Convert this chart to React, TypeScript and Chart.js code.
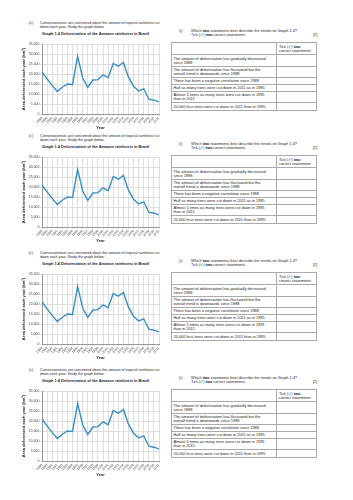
import React, { useEffect, useRef } from "react";
import { Chart, registerables } from "chart.js";
Chart.register(...registerables);

const years = ["1988","1989","1990","1991","1992","1993","1994","1995","1996","1997","1998","1999","2000","2001","2002","2003","2004","2005","2006","2007","2008","2009","2010","2011"];
const deforestation = [21000, 17600, 14300, 11300, 13400, 15000, 14800, 28800, 18000, 13300, 17000, 17200, 19600, 18100, 25300, 23900, 25800, 18400, 13900, 11500, 12600, 7400, 6900, 6100];
const yMin = 0;
const yMax = 35000;
const yStep = 5000;

const questionLines = [
  "Conservationists are concerned about the amount of tropical rainforest cut",
  "down each year. Study the graph below.",
];
const graphTitle = "Graph 1.4 Deforestation of the Amazon rainforest in Brazil";
const yTitle = "Area deforested each year (km²)";
const xTitle = "Year";
const statements: string[][] = [
  ["The amount of deforestation has gradually decreased", "since 1988"],
  ["The amount of deforestation has fluctuated but the", "overall trend is downwards since 1988"],
  ["There has been a negative correlation since 1988"],
  ["Half as many trees were cut down in 2011 as in 1995"],
  ["Almost 5 times as many trees were cut down in 1995", "than in 2011"],
  ["20,000 less trees were cut down in 2011 than in 1995"],
];
const panelTops = [44, 157, 274, 391];

const FONT = '"Liberation Sans", Arial, sans-serif';
const rowHeights = [12, 12, 11, 7, 7, 11, 8];

function DeforestationChart({ top }: { top: number }) {
  const ref = useRef<HTMLCanvasElement>(null);
  useEffect(() => {
    const chart = new Chart(ref.current!, {
      type: "line",
      data: {
        labels: years,
        datasets: [
          {
            data: deforestation,
            borderColor: "#3a8ec3",
            borderWidth: 1.4,
            pointRadius: 0,
            tension: 0,
            fill: false,
          },
        ],
      },
      options: {
        responsive: false,
        animation: false,
        devicePixelRatio: 1,
        layout: { padding: { top: 5, right: 4, left: 0, bottom: 0 } },
        plugins: { legend: { display: false }, tooltip: { enabled: false } },
        scales: {
          x: {
            grid: { color: "#dedede", tickLength: 2 },
            border: { color: "#999" },
            ticks: {
              font: { size: 3.4, family: FONT },
              color: "#444",
              maxRotation: 45,
              minRotation: 45,
              autoSkip: false,
              padding: 0,
            },
            title: {
              display: true,
              text: xTitle,
              font: { size: 4, weight: "bold", family: FONT },
              color: "#222",
              padding: { top: 0, bottom: 0 },
            },
            afterFit: (s: any) => {
              s.height = 16;
            },
          },
          y: {
            min: yMin,
            max: yMax,
            grid: { color: "#dedede", tickLength: 2 },
            border: { color: "#999" },
            ticks: {
              stepSize: yStep,
              font: { size: 3.5, family: FONT },
              color: "#444",
              padding: 0.5,
              callback: (v: any) => Number(v).toLocaleString("en-US"),
            },
            title: {
              display: true,
              text: yTitle,
              font: { size: 4.1, weight: "bold", family: FONT },
              color: "#222",
              padding: { top: 5, bottom: 0 },
            },
            afterFit: (s: any) => {
              s.width = 26;
            },
          },
        },
      },
    });
    return () => chart.destroy();
  }, []);
  return (
    <canvas
      ref={ref}
      width={147}
      height={91}
      style={{ position: "absolute", left: 16, top: top - 5, width: 147, height: 91 }}
    />
  );
}

function Line({ x, y, size, bold, children }: any) {
  return (
    <div
      style={{
        position: "absolute",
        left: x,
        top: y - size * 0.6,
        fontSize: size,
        lineHeight: `${size * 1.2}px`,
        whiteSpace: "nowrap",
        fontWeight: bold ? "bold" : "normal",
      }}
    >
      {children}
    </div>
  );
}

function StatementTable({ top }: { top: number }) {
  const cells: any[] = [];
  let y = 0;
  const leftW = 106;
  const rightW = 41;
  rowHeights.forEach((h, i) => {
    const base = {
      position: "absolute" as const,
      top: y,
      height: h + 1,
      boxSizing: "border-box" as const,
      border: "1px solid #aaa",
      display: "flex",
      flexDirection: "column" as const,
      justifyContent: "center",
      fontSize: 3.9,
      lineHeight: "3.8px",
      whiteSpace: "nowrap" as const,
    };
    cells.push(
      <div key={"l" + i} style={{ ...base, left: 0, width: leftW, paddingLeft: 1.5 }}>
        {i > 0 && statements[i - 1].map((t, k) => <div key={k}>{t}</div>)}
      </div>
    );
    cells.push(
      <div key={"r" + i} style={{ ...base, left: leftW - 1, width: rightW, paddingLeft: 2 }}>
        {i === 0 && (
          <>
            <div>
              Tick (✓) <b>two</b>
            </div>
            <div>correct statements</div>
          </>
        )}
      </div>
    );
    y += h;
  });
  return (
    <div style={{ position: "absolute", left: 171, top: top - 2, width: 146, height: y + 1 }}>
      {cells}
    </div>
  );
}

function Panel({ top }: { top: number }) {
  return (
    <>
      <Line x={29} y={top - 21} size={3.65}>(c)</Line>
      <Line x={40} y={top - 21} size={3.65}>{questionLines[0]}</Line>
      <Line x={40} y={top - 17} size={3.65}>{questionLines[1]}</Line>
      <Line x={42} y={top - 9.5} size={3.9} bold>{graphTitle}</Line>
      <DeforestationChart top={top} />
      <Line x={179} y={top - 12.5} size={3.85}>(i)</Line>
      <Line x={191} y={top - 12.5} size={3.85}>
        Which <b>two</b> statements best describe the trends on Graph 1.4?
      </Line>
      <Line x={191} y={top - 8.5} size={3.85}>
        Tick (✓) <b>two</b> correct statements.
      </Line>
      <Line x={313} y={top - 8.5} size={3.85}>[2]</Line>
      <StatementTable top={top} />
    </>
  );
}

export default function App() {
  return (
    <div
      style={{
        position: "absolute",
        left: 0,
        top: 0,
        width: 353,
        height: 500,
        background: "#fff",
        fontFamily: FONT,
        color: "#222",
        overflow: "hidden",
      }}
    >
      {panelTops.map((t, i) => (
        <Panel key={i} top={t} />
      ))}
    </div>
  );
}
